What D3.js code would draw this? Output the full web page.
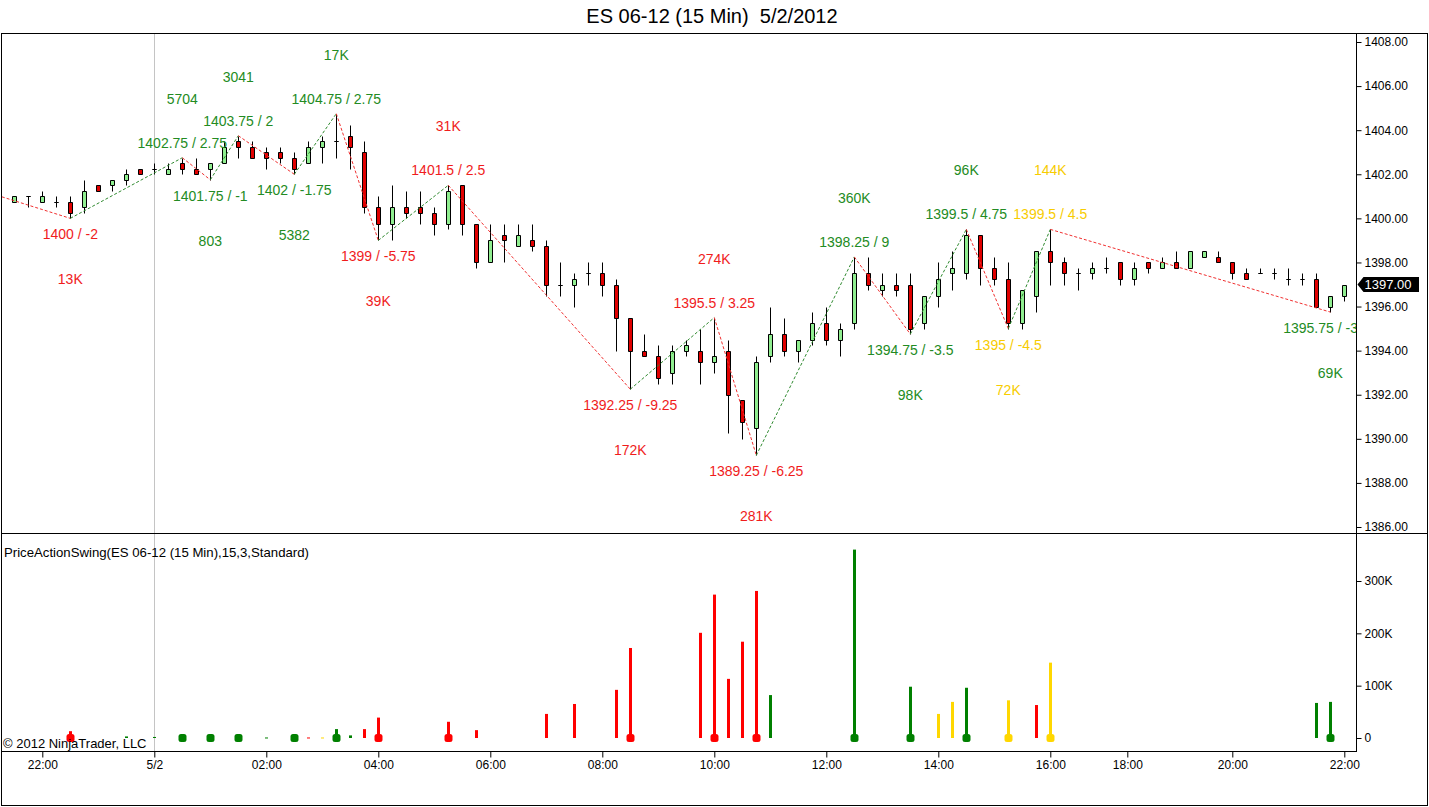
<!DOCTYPE html>
<html>
<head>
<meta charset="utf-8">
<script src="https://cdn.jsdelivr.net/npm/d3@7"></script>
<style>
  body { margin: 0; background: #fff; }
  text { font-family: "Liberation Sans", Arial, sans-serif; }
</style>
</head>
<body>
<div id="chart"></div>
<script>
var svgWidth = 1429;
var svgHeight = 807;

// x axis: bar index where each time label sits
var tickLabels = ["22:00", "5/2", "02:00", "04:00", "06:00", "08:00", "10:00", "12:00", "14:00", "16:00", "18:00", "20:00", "22:00"];
var tickBars = [2, 10, 18, 26, 34, 42, 50, 58, 66, 74, 79.5, 87, 95];

var priceTicks = [1386, 1388, 1390, 1392, 1394, 1396, 1398, 1400, 1402, 1404, 1406, 1408];
var volTicks = [0, 100, 200, 300];

// 15 min bars, 5/1 21:30 -> 5/2 22:00
var opens = [1400.75, 1401, 1400.75, 1400.75, 1400.75, 1400.5, 1401.5, 1401.5, 1401.75, 1402.25,
  1402.25, 1402, 1402.5, 1402.25, 1402.25, 1402.5, 1403.5, 1403.25, 1403, 1403,
  1402.75, 1402.5, 1403.25, 1403.5, 1403.75, 1403, 1400.5, 1399.75, 1400.5, 1400.5,
  1400.25, 1399.75, 1401.5, 1399.75, 1398, 1399.25, 1398.75, 1399, 1398.75, 1397,
  1397, 1397.5, 1397.5, 1397, 1395.5, 1394, 1393.75, 1393, 1394, 1394,
  1393.5, 1394, 1391.75, 1390.5, 1393.75, 1394.75, 1394, 1394.5, 1395.25, 1394.5,
  1395.25, 1397.5, 1396.75, 1397, 1397, 1395.25, 1396.5, 1397.5, 1397.5, 1399.25,
  1397.75, 1397.25, 1395.25, 1396.5, 1398.5, 1398, 1397.5, 1397.5, 1397.75, 1398,
  1397.25, 1398, 1397.75, 1398, 1397.75, 1398.25, 1398.25, 1398, 1397.5, 1397.5,
  1397.5, 1397.25, 1397.25, 1397.25, 1396, 1396.5];
var highs = [1401, 1401, 1401.25, 1401, 1401, 1401.75, 1401.5, 1401.75, 1402.25, 1402.25,
  1402.5, 1402.5, 1402.75, 1402.75, 1402.5, 1403.5, 1403.75, 1403.5, 1403.25, 1403.25,
  1403, 1403.5, 1403.75, 1404.75, 1404.25, 1403.5, 1401, 1401.5, 1401.25, 1401.25,
  1400.5, 1401.5, 1401.5, 1399.75, 1399.75, 1399.75, 1399.75, 1399.75, 1399, 1398,
  1397.5, 1398, 1398, 1397.25, 1395.5, 1394.75, 1394.25, 1394.25, 1394.5, 1395,
  1395.5, 1394.5, 1391.75, 1393.75, 1396, 1395.5, 1394.5, 1395.75, 1396, 1395.25,
  1398.25, 1398.25, 1397.5, 1397.5, 1397.5, 1396.5, 1398, 1398.5, 1399.5, 1399.25,
  1398.25, 1398, 1396.75, 1398.5, 1399.5, 1398.25, 1397.75, 1398, 1398.25, 1398,
  1398, 1398, 1398.25, 1398.5, 1398.5, 1398.5, 1398.5, 1398, 1397.75, 1397.75,
  1397.75, 1397.75, 1397.5, 1397.5, 1396.5, 1397];
var lows = [1400.75, 1400.5, 1400.75, 1400.5, 1400, 1400.25, 1401.25, 1401.25, 1401.5, 1402,
  1402, 1402, 1402, 1402, 1401.75, 1402.5, 1402.75, 1402.75, 1402.25, 1402.5,
  1402, 1402.5, 1402.5, 1402.75, 1402.25, 1400.25, 1399, 1399, 1400, 1399.75,
  1399.25, 1399.5, 1399.25, 1397.75, 1398, 1398, 1398.75, 1398.5, 1396.5, 1396.5,
  1396, 1397, 1396.5, 1394, 1392.25, 1393.75, 1392.5, 1392.5, 1393.75, 1392.5,
  1393, 1390.25, 1390, 1389.25, 1393.5, 1393.75, 1393.5, 1394.25, 1394.25, 1393.75,
  1395, 1396.75, 1396.5, 1396.5, 1394.75, 1395, 1396, 1396.75, 1397.25, 1397,
  1397, 1395, 1395, 1395.75, 1397, 1397, 1396.75, 1397.25, 1397.5, 1397,
  1397, 1397.5, 1397.75, 1397.75, 1397.75, 1398.25, 1398, 1397.25, 1397.25, 1397.5,
  1397.25, 1397, 1397, 1396, 1395.75, 1396.25];
var closes = [1401, 1401, 1401, 1400.75, 1400.25, 1401.25, 1401.25, 1401.75, 1402, 1402,
  1402.25, 1402.25, 1402.25, 1402, 1402.5, 1403.25, 1403.25, 1402.75, 1402.75, 1402.75,
  1402.25, 1403.25, 1403.5, 1403.5, 1403.25, 1400.5, 1399.75, 1400.5, 1400.25, 1400.25,
  1399.75, 1401.25, 1399.75, 1398, 1399, 1399, 1399.25, 1398.75, 1397, 1397,
  1397.25, 1397.5, 1397, 1395.5, 1394, 1393.75, 1392.75, 1394, 1394.25, 1393.5,
  1393.75, 1392, 1390.75, 1393.5, 1394.75, 1394, 1394.5, 1395.25, 1394.5, 1395,
  1397.5, 1397, 1397, 1396.75, 1395, 1396.5, 1397.25, 1397.75, 1399.25, 1397.75,
  1397.25, 1395.25, 1396.75, 1398.5, 1398, 1397.5, 1397.5, 1397.75, 1397.75, 1397.25,
  1397.75, 1397.75, 1398, 1397.75, 1398.5, 1398.5, 1398, 1397.5, 1397.25, 1397.5,
  1397.5, 1397.25, 1397.25, 1396, 1396.5, 1397];

// swing points (first one lies before the visible bars)
var swingBars = [-6, 4, 12, 14, 16, 20, 23, 26, 31, 44, 50, 53, 60, 64, 68, 71, 74, 94];
var swingPrices = [1402, 1400, 1402.75, 1401.75, 1403.75, 1402, 1404.75, 1399, 1401.5, 1392.25,
  1395.5, 1389.25, 1398.25, 1394.75, 1399.5, 1395, 1399.5, 1395.75];
var swingLabels = ["", "1400 / -2", "1402.75 / 2.75", "1401.75 / -1", "1403.75 / 2", "1402 / -1.75",
  "1404.75 / 2.75", "1399 / -5.75", "1401.5 / 2.5", "1392.25 / -9.25", "1395.5 / 3.25",
  "1389.25 / -6.25", "1398.25 / 9", "1394.75 / -3.5", "1399.5 / 4.75", "1395 / -4.5",
  "1399.5 / 4.5", "1395.75 / -3.75"];
var swingVolLabels = ["", "13K", "5704", "803", "3041", "5382", "17K", "39K", "31K", "172K",
  "274K", "281K", "360K", "98K", "96K", "72K", "144K", "69K"];
var swingColors = ["r", "r", "g", "g", "g", "g", "g", "r", "r", "r", "r", "r", "g", "g", "g", "y", "y", "g"];

// swing volume histogram (thousands)
var volBars = [4, 8, 10, 12, 14, 16, 18, 20, 21, 22, 23, 24, 25, 26, 31, 33, 38, 40, 43, 44,
  49, 50, 51, 52, 53, 54, 60, 64, 66, 67, 68, 71, 73, 74, 93, 94];
var volValues = [13, 3, 2, 5.7, 0.8, 3, 1, 5.4, 1, 1, 17, 5, 17, 39, 31, 15, 46, 65, 92, 172,
  201, 274, 113, 184, 281, 82, 360, 98, 46, 69, 96, 72, 63, 144, 67, 69];
var volColors = ["r", "g", "g", "g", "g", "g", "g", "g", "r", "y", "g", "g", "r", "r", "r", "r", "r", "r", "r", "r",
  "r", "r", "r", "r", "r", "g", "g", "g", "y", "y", "g", "y", "r", "y", "g", "g"];

var lastPrice = 1397;

var barColor = { r: "#ff0000", g: "#008000", y: "#ffd700" };
var textColor = { r: "#f01c1c", g: "#238b23", y: "#f7cc00" };
var lineColor = { up: "#2f8a2f", down: "#f03030" };

var plotLeft = 1;
var plotRight = 1356.5;
var mainTop = 34;
var mainBottom = 533;
var volBottom = 751;

var x = d3.scaleLinear().domain([0, 95]).range([14.3, 1344.3]);
var yPrice = d3.scaleLinear().domain([1386, 1408]).range([527, 42]);
var yVol = d3.scaleLinear().domain([0, 300]).range([738, 581]);

var svg = d3.select("#chart")
  .append("svg")
  .attr("width", svgWidth)
  .attr("height", svgHeight);

var defs = svg.append("defs");
defs.append("clipPath").attr("id", "mainClip")
  .append("rect")
  .attr("x", plotLeft).attr("y", mainTop)
  .attr("width", plotRight - plotLeft).attr("height", mainBottom - mainTop);
defs.append("clipPath").attr("id", "volClip")
  .append("rect")
  .attr("x", plotLeft).attr("y", mainBottom)
  .attr("width", plotRight - plotLeft).attr("height", volBottom - mainBottom);

// title
svg.append("text")
  .attr("x", 712)
  .attr("y", 23)
  .attr("text-anchor", "middle")
  .style("font-size", "20px")
  .style("white-space", "pre")
  .attr("fill", "#000")
  .text("ES 06-12 (15 Min)  5/2/2012");

// day separator
var sepX = Math.round(x(10)) + 0.5;
svg.append("line")
  .attr("x1", sepX).attr("x2", sepX)
  .attr("y1", mainTop).attr("y2", volBottom)
  .attr("stroke", "#c4c4c4");

var crisp = v => Math.round(v) + 0.5;

// candles
var main = svg.append("g").attr("clip-path", "url(#mainClip)");
var candles = main.selectAll("g.candle")
  .data(opens.map((o, i) => ({ i: i, o: o, h: highs[i], l: lows[i], c: closes[i] })))
  .enter()
  .append("g")
  .attr("class", "candle");

candles.append("line")
  .attr("x1", d => crisp(x(d.i)))
  .attr("x2", d => crisp(x(d.i)))
  .attr("y1", d => crisp(yPrice(d.h)))
  .attr("y2", d => crisp(yPrice(d.l)))
  .attr("stroke", "#000");

candles.append("path")
  .attr("d", function(d) {
    var cx = crisp(x(d.i));
    var t = crisp(yPrice(Math.max(d.o, d.c)));
    var b = crisp(yPrice(Math.min(d.o, d.c)));
    return `M${cx - 2},${t}H${cx + 2}V${b}H${cx - 2}Z`;
  })
  .attr("fill", d => d.c > d.o ? "#90ee90" : (d.c < d.o ? "#e00000" : "none"))
  .attr("stroke", "#000");

// swing zigzag
var swings = swingBars.map((b, i) => ({
  i: b, p: swingPrices[i], label: swingLabels[i], vol: swingVolLabels[i], col: swingColors[i]
}));
for (var k = 1; k < swings.length; k++) {
  var a = swings[k - 1], s = swings[k];
  main.append("line")
    .attr("x1", x(a.i)).attr("y1", yPrice(a.p))
    .attr("x2", x(s.i)).attr("y2", yPrice(s.p))
    .attr("stroke", s.p > a.p ? lineColor.up : lineColor.down)
    .attr("stroke-width", 1)
    .attr("stroke-dasharray", "3,2");
  s.high = s.p > a.p;
}

var labelled = swings.filter(s => s.label);
main.selectAll("text.swing")
  .data(labelled)
  .enter()
  .append("text")
  .attr("class", "swing")
  .attr("x", d => x(d.i))
  .attr("y", d => yPrice(d.p) + (d.high ? -10 : 21))
  .attr("text-anchor", "middle")
  .style("font-size", "14px")
  .attr("fill", d => textColor[d.col])
  .text(d => d.label);

main.selectAll("text.swingVol")
  .data(labelled)
  .enter()
  .append("text")
  .attr("class", "swingVol")
  .attr("x", d => x(d.i))
  .attr("y", d => yPrice(d.p) + (d.high ? -54 : 66))
  .attr("text-anchor", "middle")
  .style("font-size", "14px")
  .attr("fill", d => textColor[d.col])
  .text(d => d.vol);

// volume panel
var vol = svg.append("g").attr("clip-path", "url(#volClip)");
vol.selectAll("rect.vbar")
  .data(volBars.map((b, i) => ({ i: b, v: volValues[i], col: volColors[i] })))
  .enter()
  .append("rect")
  .attr("class", "vbar")
  .attr("x", d => Math.round(x(d.i)) - 1)
  .attr("width", 3)
  .attr("y", d => yVol(d.v))
  .attr("height", d => Math.max(1, yVol(0) - yVol(d.v)))
  .attr("fill", d => barColor[d.col]);

vol.selectAll("rect.dot")
  .data(labelled)
  .enter()
  .append("rect")
  .attr("class", "dot")
  .attr("x", d => Math.round(x(d.i)) - 3.5)
  .attr("y", yVol(0) - 4)
  .attr("width", 8)
  .attr("height", 8)
  .attr("rx", 2.5)
  .attr("fill", d => barColor[d.col]);

svg.append("text")
  .attr("x", 4)
  .attr("y", 557)
  .style("font-size", "13.2px")
  .attr("fill", "#000")
  .text("PriceActionSwing(ES 06-12 (15 Min),15,3,Standard)");

svg.append("text")
  .attr("x", 3)
  .attr("y", 748)
  .style("font-size", "13px")
  .attr("fill", "#000")
  .text("\u00a9 2012 NinjaTrader, LLC");

// frames
svg.append("rect")
  .attr("x", 1.5).attr("y", mainTop - 0.5)
  .attr("width", 1426).attr("height", 772)
  .attr("fill", "none").attr("stroke", "#000");
svg.append("line")
  .attr("x1", 1).attr("x2", 1428)
  .attr("y1", mainBottom + 0.5).attr("y2", mainBottom + 0.5)
  .attr("stroke", "#000");
svg.append("line")
  .attr("x1", 1).attr("x2", plotRight)
  .attr("y1", volBottom + 0.5).attr("y2", volBottom + 0.5)
  .attr("stroke", "#000");
svg.append("line")
  .attr("x1", plotRight).attr("x2", plotRight)
  .attr("y1", mainTop).attr("y2", volBottom + 1)
  .attr("stroke", "#000");

// axes
function styleAxis(g) {
  g.select(".domain").remove();
  g.selectAll("text").style("font-size", "12px").attr("fill", "#000");
  g.selectAll("line").attr("stroke", "#000");
}

svg.append("g")
  .attr("transform", `translate(${plotRight},0)`)
  .call(d3.axisRight(yPrice).tickValues(priceTicks).tickSize(5).tickPadding(3).tickFormat(d => d.toFixed(2)))
  .call(styleAxis);

svg.append("g")
  .attr("transform", `translate(${plotRight},0)`)
  .call(d3.axisRight(yVol).tickValues(volTicks).tickSize(5).tickPadding(3).tickFormat(d => d ? d + "K" : "0"))
  .call(styleAxis);

svg.append("g")
  .attr("transform", `translate(0,${volBottom + 0.5})`)
  .call(d3.axisBottom(x).tickValues(tickBars).tickSize(6).tickPadding(3).tickFormat((d, i) => tickLabels[i]))
  .call(styleAxis);

// last price marker
var lp = yPrice(lastPrice);
svg.append("path")
  .attr("d", `M${plotRight + 1},${lp} L${plotRight + 7},${lp - 7.5} H1419 V${lp + 7.5} H${plotRight + 7} Z`)
  .attr("fill", "#000");
svg.append("text")
  .attr("x", plotRight + 8)
  .attr("y", lp)
  .attr("dy", "0.36em")
  .style("font-size", "13px")
  .attr("fill", "#fff")
  .text(lastPrice.toFixed(2));
</script>
</body>
</html>
